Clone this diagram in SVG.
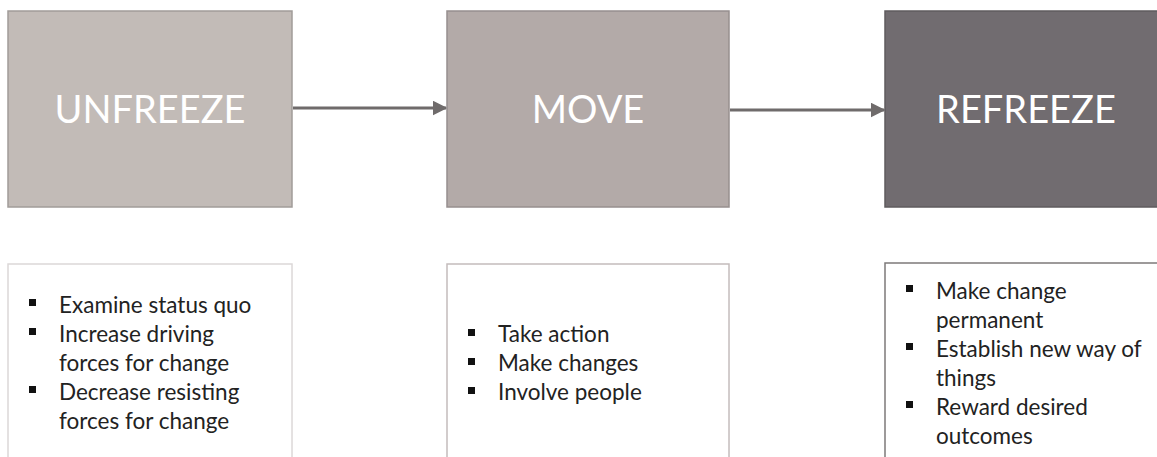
<svg xmlns="http://www.w3.org/2000/svg" width="1157" height="457" viewBox="0 0 1157 457">
  <style>
    .title { font-family: Lato, "Open Sans", sans-serif; font-weight: 400; font-size: 38px; fill: #ffffff; text-anchor: middle; }
    .item { font-family: Lato, "Liberation Sans", sans-serif; font-size: 22.5px; fill: #222222; }
    .bullet { fill: #111111; }
    .conn { stroke: #6f6b6b; stroke-width: 3; fill: none; }
  </style>
  <defs>
    <marker id="arrow" viewBox="0 0 10 10" refX="9" refY="5" markerWidth="5" markerHeight="5" orient="auto" markerUnits="strokeWidth">
      <path d="M0,0 L10,5 L0,10 Z" fill="#6f6b6b"/>
    </marker>
  </defs>

  <rect width="1157" height="457" fill="#ffffff"/>

  <!-- connectors -->
  <g id="connectors">
    <line class="conn" x1="293" y1="108" x2="446" y2="108" marker-end="url(#arrow)"/>
    <line class="conn" x1="730" y1="110" x2="884" y2="110" marker-end="url(#arrow)"/>
  </g>

  <!-- stage headers -->
  <g id="unfreeze">
    <rect x="8" y="11" width="284" height="196" fill="#c2bbb7" stroke="#a19c99" stroke-width="1.5"/>
    <text class="title" x="150" y="123">UNFREEZE</text>
  </g>
  <g id="move">
    <rect x="447" y="11" width="282" height="196" fill="#b3aaa8" stroke="#978f8e" stroke-width="1.5"/>
    <text class="title" x="588" y="123">MOVE</text>
  </g>
  <g id="refreeze">
    <rect x="885" y="11" width="280" height="196" fill="#716c70" stroke="#5f5b5e" stroke-width="1.5"/>
    <text class="title" x="1026" y="123">REFREEZE</text>
  </g>

  <!-- stage details -->
  <g id="unfreeze-details">
    <rect x="8" y="264" width="284" height="200" fill="#ffffff" stroke="#dcd8d8" stroke-width="1.5"/>
    <rect class="bullet" x="29" y="299" width="7" height="7"/>
    <rect class="bullet" x="29" y="328" width="7" height="7"/>
    <rect class="bullet" x="29" y="386" width="7" height="7"/>
    <text class="item" x="59" y="313">Examine status quo</text>
    <text class="item" x="59" y="342">Increase driving</text>
    <text class="item" x="59" y="371">forces for change</text>
    <text class="item" x="59" y="400">Decrease resisting</text>
    <text class="item" x="59" y="429">forces for change</text>
  </g>
  <g id="move-details">
    <rect x="447" y="264" width="282" height="200" fill="#ffffff" stroke="#c4bcbc" stroke-width="1.5"/>
    <rect class="bullet" x="468" y="329" width="7" height="7"/>
    <rect class="bullet" x="468" y="358" width="7" height="7"/>
    <rect class="bullet" x="468" y="387" width="7" height="7"/>
    <text class="item" x="498" y="342">Take action</text>
    <text class="item" x="498" y="371">Make changes</text>
    <text class="item" x="498" y="400">Involve people</text>
  </g>
  <g id="refreeze-details">
    <rect x="885" y="263" width="280" height="200" fill="#ffffff" stroke="#7d7979" stroke-width="1.5"/>
    <rect class="bullet" x="906" y="285" width="7" height="7"/>
    <rect class="bullet" x="906" y="343" width="7" height="7"/>
    <rect class="bullet" x="906" y="401" width="7" height="7"/>
    <text class="item" x="936" y="299">Make change</text>
    <text class="item" x="936" y="328">permanent</text>
    <text class="item" x="936" y="357">Establish new way of</text>
    <text class="item" x="936" y="386">things</text>
    <text class="item" x="936" y="415">Reward desired</text>
    <text class="item" x="936" y="444">outcomes</text>
  </g>
</svg>
